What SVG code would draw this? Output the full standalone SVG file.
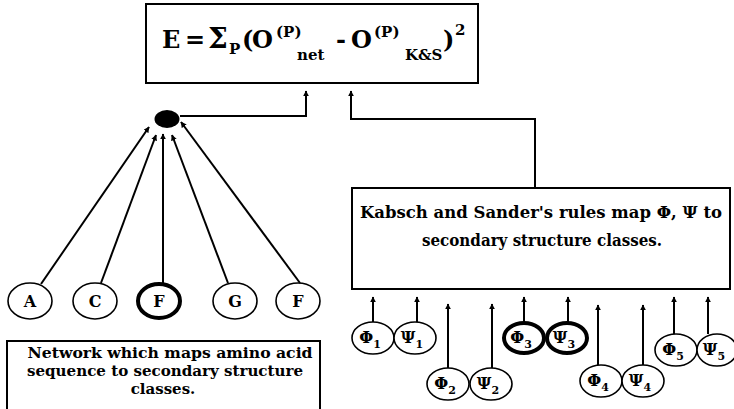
<svg xmlns="http://www.w3.org/2000/svg" width="734" height="409" viewBox="0 0 734 409">
  <defs>
    <marker id="arrow" viewBox="0 0 10 10" refX="9" refY="5" markerWidth="6" markerHeight="6" markerUnits="userSpaceOnUse" orient="auto">
      <path d="M0,0 L10,5 L0,10 Z" fill="#000"/>
    </marker>
    <style>
      .box { fill: #fff; stroke: #000; stroke-width: 2; }
      .node { fill: #fff; stroke: #000; stroke-width: 1.6; }
      .bold-node { fill: #fff; stroke: #000; stroke-width: 4; }
      .conn { fill: none; stroke: #000; stroke-width: 2; marker-end: url(#arrow); }
      text { font-family: "DejaVu Serif", "Liberation Serif", serif; font-weight: bold; fill: #000; }
      .lbl { font-size: 16px; text-anchor: middle; }
      .ang { font-size: 16px; text-anchor: middle; }
      .sub { font-size: 11px; }
      .body { font-size: 16px; text-anchor: middle; }
      .note { font-size: 15px; text-anchor: middle; }
      .eq { font-size: 24px; }
      .eqs { font-size: 15px; }
    </style>
  </defs>
  <rect width="734" height="409" fill="#fff"/>

  <!-- error function box -->
  <g id="error-box">
    <rect class="box" x="146" y="4" width="332" height="79"/>
    <text class="eq" x="162" y="48">E</text>
    <text class="eq" x="185" y="48">=</text>
    <text class="eq" x="208" y="48" style="font-size:28px">Σ</text>
    <text class="eqs" x="229" y="54">P</text>
    <text class="eq" x="242" y="48">(</text>
    <text class="eq" x="252" y="48">O</text>
    <text class="eqs" x="276" y="37">(P)</text>
    <text class="eqs" x="297" y="60">net</text>
    <text class="eq" x="336" y="48">-</text>
    <text class="eq" x="351" y="48">O</text>
    <text class="eqs" x="374" y="37">(P)</text>
    <text class="eqs" x="405" y="60">K&amp;S</text>
    <text class="eq" x="443" y="48">)</text>
    <text class="eqs" x="455" y="35">2</text>
  </g>

  <!-- Kabsch and Sander rules box -->
  <g id="ks-box">
    <rect class="box" x="352" y="188" width="378" height="101"/>
    <text class="body" x="541" y="218" textLength="362" lengthAdjust="spacingAndGlyphs">Kabsch and Sander's rules map Φ, Ψ to</text>
    <text class="body" x="542" y="246" textLength="240" lengthAdjust="spacingAndGlyphs">secondary structure classes.</text>
  </g>

  <!-- network description box -->
  <g id="net-box">
    <rect class="box" x="7" y="341" width="313" height="80"/>
    <text class="note" x="170" y="358" textLength="285" lengthAdjust="spacingAndGlyphs">Network which maps amino acid</text>
    <text class="note" x="165" y="376" textLength="276" lengthAdjust="spacingAndGlyphs">sequence to secondary structure</text>
    <text class="note" x="163" y="394">classes.</text>
  </g>

  <!-- output unit -->
  <g id="output-unit">
    <ellipse cx="167" cy="119" rx="12.5" ry="9" fill="#000"/>
  </g>

  <!-- amino acid inputs -->
  <g id="aa-A"><ellipse class="node" cx="30" cy="301" rx="22" ry="18"/><text class="lbl" x="30" y="307">A</text></g>
  <g id="aa-C"><ellipse class="node" cx="95" cy="301" rx="22" ry="18"/><text class="lbl" x="95" y="307">C</text></g>
  <g id="aa-F1"><ellipse class="bold-node" cx="159" cy="301" rx="21" ry="17"/><text class="lbl" x="159" y="307">F</text></g>
  <g id="aa-G"><ellipse class="node" cx="235" cy="301" rx="22" ry="18"/><text class="lbl" x="235" y="307">G</text></g>
  <g id="aa-F2"><ellipse class="node" cx="298" cy="301" rx="22" ry="18"/><text class="lbl" x="298" y="307">F</text></g>

  <!-- dihedral angle inputs -->
  <g id="phi1"><ellipse class="node" cx="373" cy="338" rx="21" ry="16"/><text class="ang" x="370" y="343">Φ<tspan class="sub" dy="5">1</tspan></text></g>
  <g id="psi1"><ellipse class="node" cx="415" cy="338" rx="21" ry="16"/><text class="ang" x="412" y="343">Ψ<tspan class="sub" dy="5">1</tspan></text></g>
  <g id="phi2"><ellipse class="node" cx="448" cy="384" rx="21" ry="16"/><text class="ang" x="445" y="389">Φ<tspan class="sub" dy="5">2</tspan></text></g>
  <g id="psi2"><ellipse class="node" cx="491" cy="384" rx="21" ry="16"/><text class="ang" x="488" y="389">Ψ<tspan class="sub" dy="5">2</tspan></text></g>
  <g id="phi3"><ellipse class="bold-node" cx="524" cy="338" rx="20" ry="15"/><text class="ang" x="521" y="343">Φ<tspan class="sub" dy="5">3</tspan></text></g>
  <g id="psi3"><ellipse class="bold-node" cx="567" cy="338" rx="20" ry="15"/><text class="ang" x="564" y="343">Ψ<tspan class="sub" dy="5">3</tspan></text></g>
  <g id="phi4"><ellipse class="node" cx="601" cy="381" rx="21" ry="16"/><text class="ang" x="598" y="386">Φ<tspan class="sub" dy="5">4</tspan></text></g>
  <g id="psi4"><ellipse class="node" cx="643" cy="381" rx="21" ry="16"/><text class="ang" x="640" y="386">Ψ<tspan class="sub" dy="5">4</tspan></text></g>
  <g id="phi5"><ellipse class="node" cx="676" cy="350" rx="21" ry="16"/><text class="ang" x="673" y="355">Φ<tspan class="sub" dy="5">5</tspan></text></g>
  <g id="psi5"><ellipse class="node" cx="717" cy="350" rx="20" ry="16"/><text class="ang" x="714" y="355">Ψ<tspan class="sub" dy="5">5</tspan></text></g>

  <!-- connectors -->
  <g id="connectors">
    <path class="conn" d="M180,116 H306 V91"/>
    <path class="conn" d="M535,188 V119 H351 V91"/>
    <path class="conn" d="M41,284 L149,127"/>
    <path class="conn" d="M101,283 L156,135"/>
    <path class="conn" d="M163,284 V134"/>
    <path class="conn" d="M228,283 L172,135"/>
    <path class="conn" d="M300,283 L181,122"/>
    <path class="conn" d="M373,322 V297"/>
    <path class="conn" d="M417,322 V297"/>
    <path class="conn" d="M448,368 V304"/>
    <path class="conn" d="M492,368 V304"/>
    <path class="conn" d="M524,323 V297"/>
    <path class="conn" d="M568,323 V297"/>
    <path class="conn" d="M598,365 V305"/>
    <path class="conn" d="M643,365 V305"/>
    <path class="conn" d="M674,334 V297"/>
    <path class="conn" d="M708,334 V297"/>
  </g>
</svg>
